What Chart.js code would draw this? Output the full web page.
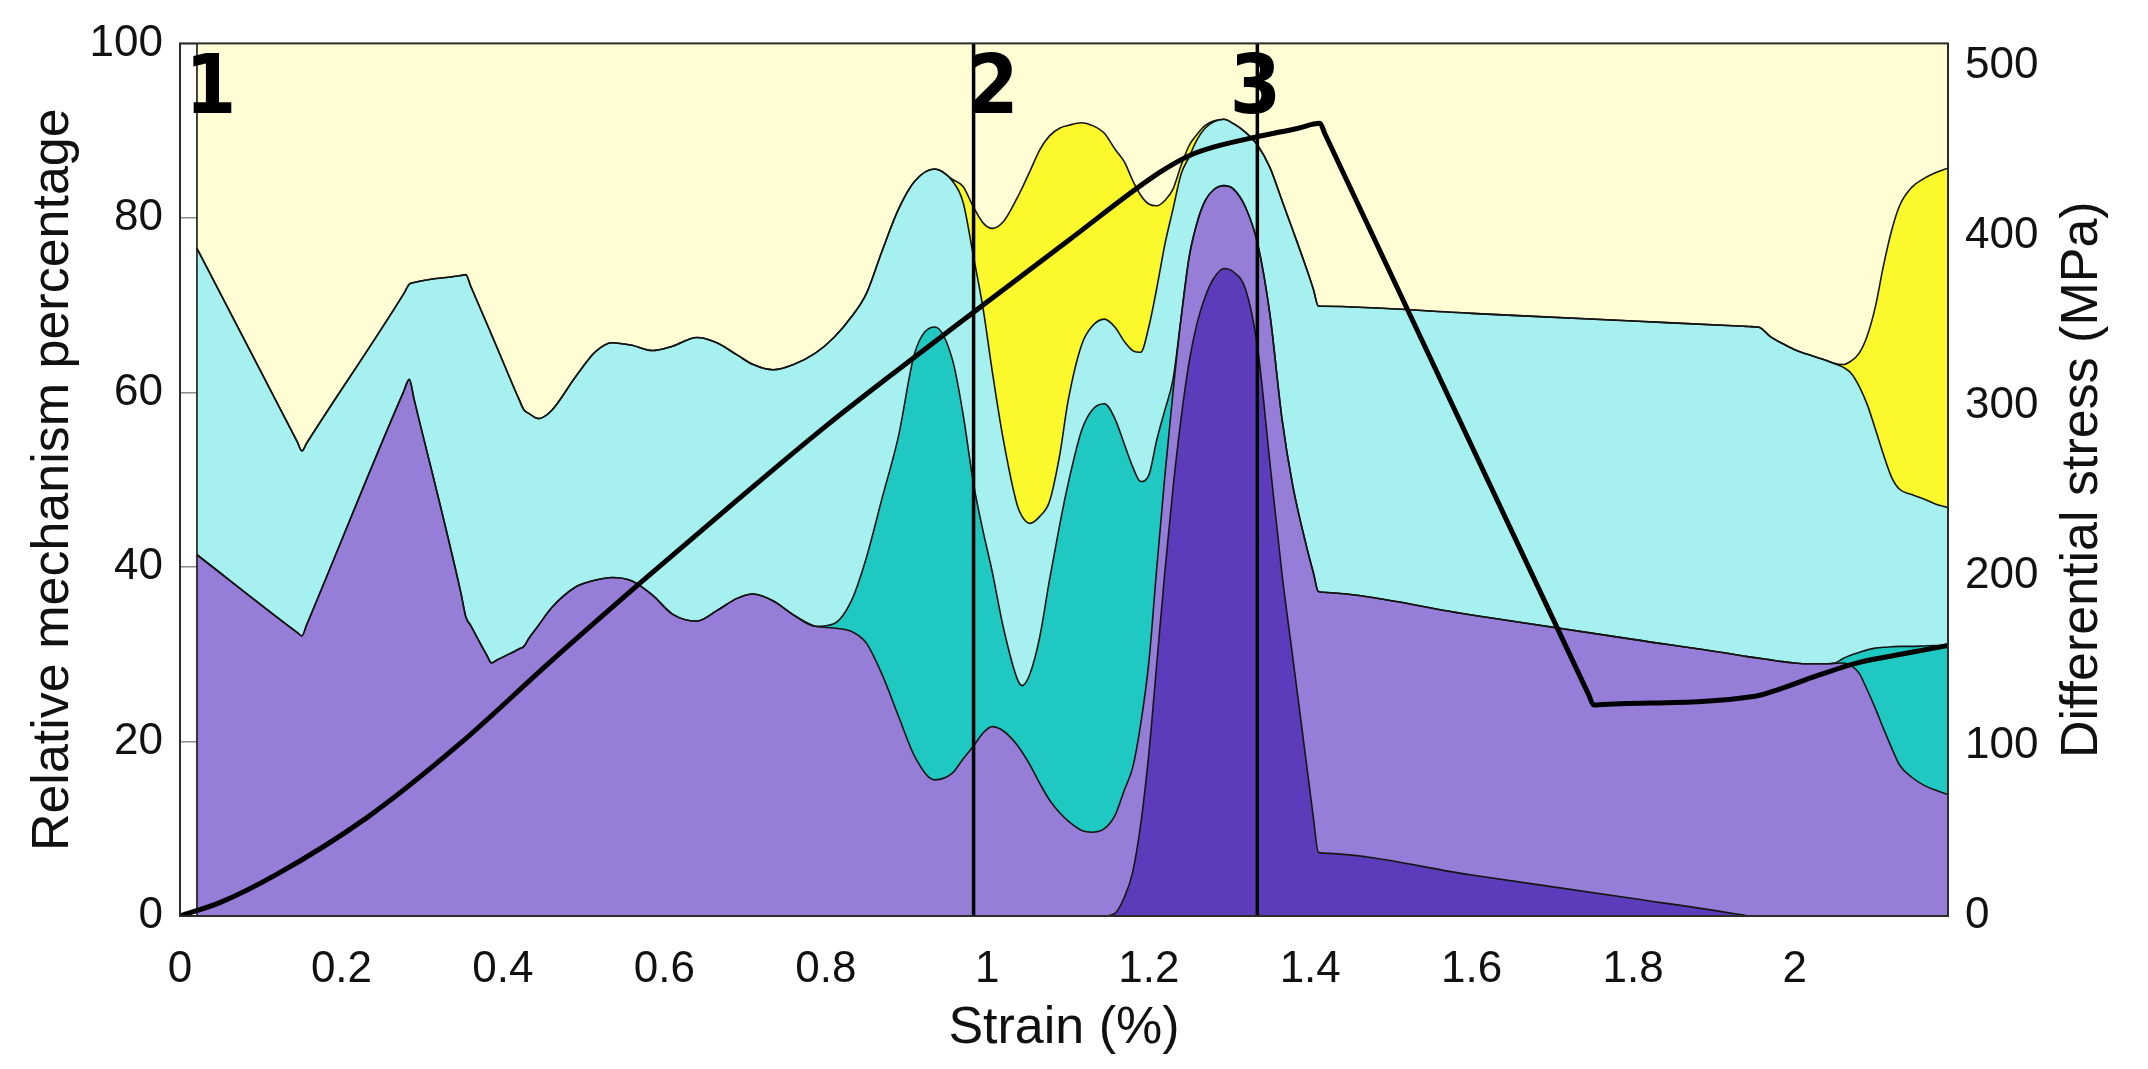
<!DOCTYPE html>
<html>
<head>
<meta charset="utf-8">
<title>Strain mechanisms</title>
<script src="https://cdn.jsdelivr.net/npm/chart.js@4.4.1/dist/chart.umd.min.js"></script>
<style>
  html, body { margin: 0; padding: 0; background: #fff; }
  canvas { display: block; }
</style>
</head>
<body>
<canvas id="myChart" width="2148" height="1069"></canvas>
<script>
// strain (%) where the area boundaries were read
const strain = [
  0.021, 0.145, 0.151, 0.157, 0.277, 0.284, 0.29, 0.348, 0.354, 0.36,
  0.38, 0.386, 0.392, 0.42, 0.426, 0.432, 0.444, 0.46, 0.49, 0.515,
  0.535, 0.56, 0.585, 0.61, 0.64, 0.665, 0.69, 0.71, 0.735, 0.76,
  0.787, 0.81, 0.832, 0.85, 0.87, 0.89, 0.91, 0.935, 0.957, 0.97,
  0.983, 0.995, 1.006, 1.02, 1.037, 1.043, 1.053, 1.065, 1.077, 1.09,
  1.1, 1.117, 1.13, 1.145, 1.158, 1.17, 1.18, 1.19, 1.2, 1.21,
  1.22, 1.23, 1.24, 1.25, 1.26, 1.27, 1.28, 1.293, 1.305, 1.32,
  1.335, 1.35, 1.365, 1.378, 1.395, 1.404, 1.41, 1.416, 1.6, 1.8,
  1.937, 1.943, 1.955, 1.97, 1.985, 2.0, 2.015, 2.035, 2.05, 2.06,
  2.07, 2.08, 2.09, 2.1, 2.11, 2.12, 2.13, 2.145, 2.16, 2.175,
  2.19
];

// cumulative percentage at the top of each mechanism band
const darkPurpleTop = [
  0, 0, 0, 0, 0, 0, 0, 0, 0, 0,
  0, 0, 0, 0, 0, 0, 0, 0, 0, 0,
  0, 0, 0, 0, 0, 0, 0, 0, 0, 0,
  0, 0, 0, 0, 0, 0, 0, 0, 0, 0,
  0, 0, 0, 0, 0, 0, 0, 0, 0, 0,
  0, 0, 0, 0, 0.3, 2.2, 5.0, 10.5, 18.5, 29.0,
  39.5, 49.0, 57.0, 63.5, 68.0, 71.0, 73.0, 74.2, 73.8, 71.8,
  65.0, 52.0, 39.2, 29.9, 17.7, 11.2, 7.3, 7.2, 4.7, 2.0,
  0.1, 0, 0, 0, 0, 0, 0, 0, 0, 0,
  0, 0, 0, 0, 0, 0, 0, 0, 0, 0,
  0
];
const purpleTop = [
  41.4, 32.5, 32.1, 33.4, 60.1, 61.5, 59.2, 37.0, 34.3, 33.3,
  29.9, 29.0, 29.3, 30.6, 30.9, 31.8, 33.3, 35.3, 37.7, 38.5,
  38.8, 38.4, 36.8, 34.6, 33.8, 35.0, 36.4, 36.9, 36.1, 34.5,
  33.2, 33.0, 32.6, 31.3, 27.6, 22.9, 18.3, 15.6, 16.4, 18.0,
  19.5, 21.0, 21.7, 21.2, 19.6, 18.8, 17.3, 15.2, 13.3, 11.8,
  10.9, 9.8, 9.6, 10.0, 11.5, 14.5, 17.0, 22.0, 29.0, 40.0,
  50.5, 60.0, 68.5, 75.5, 79.5, 82.0, 83.2, 83.7, 83.3, 81.2,
  77.0, 69.0, 57.0, 49.5, 42.5, 39.3, 37.2, 37.1, 34.5, 31.7,
  29.8, 29.7, 29.55, 29.35, 29.15, 29.0, 28.9, 28.9, 28.95, 29.0,
  28.7, 27.8, 25.9, 23.8, 21.5, 19.3, 17.3, 15.9, 15.0, 14.4,
  13.9
];
const tealTop = [
  41.4, 32.5, 32.1, 33.4, 60.1, 61.5, 59.2, 37.0, 34.3, 33.3,
  29.9, 29.0, 29.3, 30.6, 30.9, 31.8, 33.3, 35.3, 37.7, 38.5,
  38.8, 38.4, 36.8, 34.6, 33.8, 35.0, 36.4, 36.9, 36.1, 34.5,
  33.2, 33.5, 36.2, 41.0, 48.0, 55.0, 64.5, 67.5, 63.7, 57.5,
  49.5, 44.0, 39.5, 33.0, 27.2, 26.4, 27.8, 32.0, 38.5, 45.0,
  49.5, 55.7, 58.0, 58.7, 57.0, 54.0, 51.5, 49.8, 50.5, 54.6,
  58.0, 61.5, 68.5, 75.5, 79.5, 82.0, 83.2, 83.7, 83.3, 81.2,
  77.0, 69.0, 57.0, 49.5, 42.5, 39.3, 37.2, 37.1, 34.5, 31.7,
  29.8, 29.7, 29.55, 29.35, 29.15, 29.0, 28.9, 28.9, 29.0, 29.5,
  29.9, 30.2, 30.5, 30.7, 30.8, 30.85, 30.9, 30.9, 30.95, 31.0,
  31.0
];
const cyanTop = [
  76.5, 54.4, 53.3, 54.2, 71.3, 72.4, 72.6, 73.4, 73.5, 72.2,
  67.9, 66.6, 65.3, 59.2, 58.0, 57.6, 57.0, 57.9, 61.8, 64.7,
  65.7, 65.4, 64.8, 65.3, 66.3, 65.7, 64.3, 63.2, 62.6, 63.2,
  64.5, 66.3, 68.7, 71.3, 76.3, 81.0, 84.2, 85.6, 84.2, 81.8,
  75.5, 69.5, 62.5, 54.5, 47.1, 45.8, 45.0, 45.8, 47.5, 53.0,
  59.0, 65.5, 67.6, 68.4, 67.5, 65.8, 64.8, 64.6, 67.5, 72.0,
  77.0, 81.0, 85.0, 87.0, 89.0, 90.3, 91.0, 91.3, 90.8, 89.8,
  88.3, 85.8, 82.0, 78.7, 74.3, 71.8, 69.9, 69.87, 69.06, 68.18,
  67.58, 67.55, 67.5, 66.4, 65.6, 64.9, 64.4, 63.8, 63.3, 62.9,
  62.2, 60.7, 58.6, 55.8, 52.9, 50.3, 48.9, 48.3, 47.8, 47.2,
  46.8
];
const yellowTop = [
  76.5, 54.4, 53.3, 54.2, 71.3, 72.4, 72.6, 73.4, 73.5, 72.2,
  67.9, 66.6, 65.3, 59.2, 58.0, 57.6, 57.0, 57.9, 61.8, 64.7,
  65.7, 65.4, 64.8, 65.3, 66.3, 65.7, 64.3, 63.2, 62.6, 63.2,
  64.5, 66.3, 68.7, 71.3, 76.3, 81.0, 84.2, 85.6, 84.4, 83.6,
  81.2, 79.4, 78.8, 79.6, 82.3, 83.4, 85.4, 87.8, 89.4, 90.3,
  90.6, 90.9, 90.6, 89.7, 87.9, 86.4, 84.3, 82.6, 81.6, 81.4,
  82.0, 83.3, 86.0, 88.3, 89.6, 90.6, 91.1, 91.3, 90.8, 89.8,
  88.3, 85.8, 82.0, 78.7, 74.3, 71.8, 69.9, 69.87, 69.06, 68.18,
  67.58, 67.55, 67.5, 66.4, 65.6, 64.9, 64.4, 63.8, 63.3, 63.2,
  63.6, 64.5, 66.5, 69.8, 74.5, 78.5, 81.4, 83.5, 84.5, 85.2,
  85.7
];

// differential stress curve (right axis)
const stressStrain = [
  0, 0.05, 0.118, 0.232, 0.346, 0.46, 0.573, 0.684, 0.8, 0.9,
  0.983, 1.1, 1.213, 1.25, 1.28, 1.333, 1.384, 1.412, 1.418, 1.745,
  1.751, 1.757, 1.949, 1.985, 2.02, 2.079, 2.133, 2.19
];
const stressMPa = [
  0, 8, 24, 58, 101, 150, 197, 242, 288, 325,
  355, 397, 437, 447, 452, 458, 463, 466, 460, 130,
  124, 124.2, 129, 134, 140, 149, 154, 159
];

const strainTicks = [0, 0.2, 0.4, 0.6, 0.8, 1, 1.2, 1.4, 1.6, 1.8, 2];
const percentTicks = [0, 20, 40, 60, 80, 100];
const stressTicks = [0, 100, 200, 300, 400, 500];

// deformation stages
const stageStrain = [0.983, 1.3345];
const stageLabels = ['1', '2', '3'];
const stageLabelStrain = [0.038, 1.007, 1.332];

const tickFont = { family: '"Liberation Sans", Arial, Helvetica, sans-serif', size: 44 };
const titleFont = { family: '"Liberation Sans", Arial, Helvetica, sans-serif', size: 52 };
const textColor = '#111';

const toPoints = (xs, ys) => xs.map((x, i) => ({ x, y: ys[i] }));

const band = (values, color, fill, edge = 1.6) => ({
  data: toPoints(strain, values),
  fill,
  backgroundColor: color,
  borderColor: '#151515',
  borderWidth: edge,
  pointRadius: 0,
  cubicInterpolationMode: 'monotone',
  yAxisID: 'y'
});

const overlay = {
  id: 'overlay',
  afterDatasetsDraw(chart) {
    const { ctx, chartArea: a, scales: { x } } = chart;
    ctx.save();

    // left edge of the areas
    const x0 = x.getPixelForValue(strain[0]);
    ctx.strokeStyle = '#151515';
    ctx.lineWidth = 1.6;
    ctx.beginPath();
    ctx.moveTo(x0, a.top);
    ctx.lineTo(x0, a.bottom);
    ctx.stroke();

    // stage boundaries
    ctx.strokeStyle = '#000';
    ctx.lineWidth = 3.5;
    stageStrain.forEach(s => {
      const px = x.getPixelForValue(s);
      ctx.beginPath();
      ctx.moveTo(px, a.top);
      ctx.lineTo(px, a.bottom);
      ctx.stroke();
    });

    // axes box
    ctx.strokeStyle = '#2b2b2b';
    ctx.lineWidth = 2;
    ctx.strokeRect(a.left, a.top, a.right - a.left, a.bottom - a.top);

    // stage numbers
    ctx.fillStyle = '#000';
    ctx.font = 'bold 82px "DejaVu Sans Condensed", "DejaVu Sans", sans-serif';
    ctx.textAlign = 'center';
    ctx.textBaseline = 'alphabetic';
    stageLabels.forEach((t, i) => {
      ctx.fillText(t, x.getPixelForValue(stageLabelStrain[i]), a.top + 70);
    });

    // right axis title, reading bottom to top
    ctx.fillStyle = textColor;
    ctx.font = '52px "Liberation Sans", Arial, Helvetica, sans-serif';
    ctx.translate(a.right + 135, (a.top + a.bottom) / 2);
    ctx.rotate(-Math.PI / 2);
    ctx.textAlign = 'center';
    ctx.textBaseline = 'middle';
    ctx.fillText('Differential stress (MPa)', 0, 0);
    ctx.restore();
  }
};

const ctx = document.getElementById('myChart').getContext('2d');
const myChart = new Chart(ctx, {
  type: 'line',
  data: {
    datasets: [
      band(darkPurpleTop, '#5C3CBA', 'origin'),
      band(purpleTop, '#967DD7', '-1'),
      band(tealTop, '#1FC8C1', '-1'),
      band(cyanTop, '#A6F1EF', '-1'),
      band(yellowTop, '#FBF92B', '-1'),
      band(yellowTop, '#FFFDD4', 'end', 0),
      {
        data: toPoints(stressStrain, stressMPa),
        yAxisID: 'y2',
        borderColor: '#000',
        borderWidth: 5,
        pointRadius: 0,
        cubicInterpolationMode: 'monotone',
        fill: false,
        order: -1
      }
    ]
  },
  options: {
    responsive: false,
    animation: false,
    layout: { padding: { top: 32, left: 0, right: 0, bottom: 0 } },
    plugins: {
      legend: { display: false },
      tooltip: { enabled: false },
      filler: { drawTime: 'beforeDatasetsDraw' }
    },
    scales: {
      x: {
        type: 'linear',
        min: 0,
        max: 2.19,
        grid: { display: false },
        border: { display: false },
        afterBuildTicks: s => { s.ticks = strainTicks.map(v => ({ value: v })); },
        afterFit: s => { s.height = 153; },
        ticks: {
          autoSkip: false,
          maxRotation: 0,
          padding: 19,
          color: textColor,
          font: tickFont,
          callback: v => String(+Number(v).toFixed(1))
        },
        title: {
          display: true,
          text: 'Strain (%)',
          color: textColor,
          font: titleFont,
          padding: { top: 0, bottom: 9 }
        }
      },
      y: {
        position: 'left',
        min: 0,
        max: 100,
        grid: { color: '#8c8c8c', lineWidth: 1.5, drawTicks: false },
        border: { display: false },
        afterBuildTicks: s => { s.ticks = percentTicks.map(v => ({ value: v })); },
        afterFit: s => { s.width = 180; },
        ticks: { padding: 17, color: textColor, font: tickFont },
        title: {
          display: true,
          text: 'Relative mechanism percentage',
          color: textColor,
          font: titleFont,
          padding: { top: 22, bottom: 0 }
        }
      },
      y2: {
        position: 'right',
        min: 0,
        max: 513,
        grid: { display: false, drawTicks: false },
        border: { display: false },
        afterBuildTicks: s => { s.ticks = stressTicks.map(v => ({ value: v })); },
        afterFit: s => { s.width = 200; },
        ticks: { padding: 17, color: textColor, font: tickFont }
      }
    }
  },
  plugins: [overlay]
});
</script>
</body>
</html>
